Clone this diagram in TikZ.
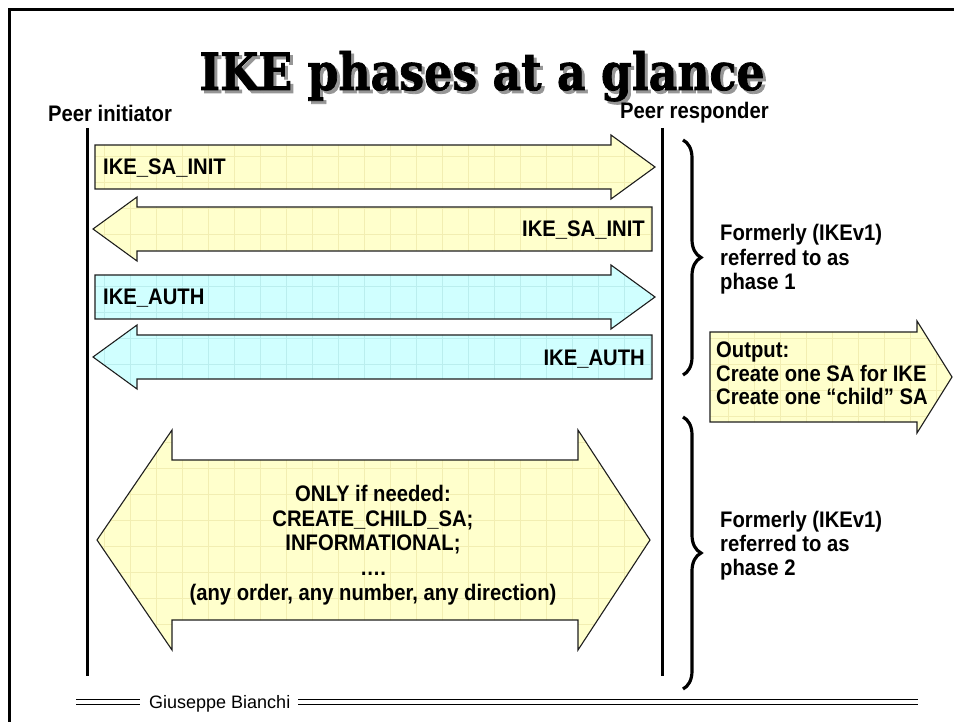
\documentclass[tikz,border=0pt]{standalone}
\usepackage{fontspec}
\setmainfont{Liberation Sans}
\newfontfamily\lblfont{Liberation Sans}[FakeStretch=0.9]
\newfontfamily\headfont{DejaVu Serif Bold}[FakeBold=1.6]
\usetikzlibrary{decorations.pathreplacing}

\definecolor{paleyellow}{RGB}{255,255,204}
\definecolor{palecyan}{RGB}{208,255,255}
\definecolor{yellowgrid}{RGB}{242,238,178}
\definecolor{cyangrid}{RGB}{186,238,238}
\definecolor{outline}{RGB}{30,30,30}
\definecolor{shadowgray}{RGB}{150,150,150}

\tikzset{
  lbl/.style={font=\lblfont\bfseries\fontsize{22.5}{24.7}\selectfont, inner sep=0pt},
  lifeline/.style={line width=3pt},
  frameline/.style={line width=3pt},
  shapeedge/.style={draw=outline, line width=1.1pt, line join=miter},
  phasebrace/.style={decorate, decoration={brace, amplitude=18pt}, line width=3.2pt},
  footrule/.style={line width=0.9pt},
}

% filled shape with a faint grid texture and a thin outline
\newcommand{\texshape}[3]{%
  \begin{scope}
    \clip #3;
    \fill[#1] #3;
    \draw[#2, line width=0.5pt, step=26pt] (0pt,-730pt) grid (960pt,0pt);
  \end{scope}
  \path[shapeedge] #3;}

\begin{document}
\begin{tikzpicture}[x=1pt, y=-1pt]
  \useasboundingbox (0,0) rectangle (954,722);
  \fill[white] (0,0) rectangle (954,722);

  % slide frame
  \coordinate (frameTL) at (9,10);
  \coordinate (frameTR) at (954,10);
  \coordinate (frameBL) at (9,722);
  \draw[frameline] (frameBL) -- (frameTL) -- (frameTR);

  % title with drop shadow
  \node[anchor=base, text=shadowgray, inner sep=0pt] (titleshadow) at (485,93)
    {\resizebox{565pt}{39pt}{\headfont IKE phases at a glance}};
  \node[anchor=base, inner sep=0pt] (title) at (482,90)
    {\resizebox{565pt}{39pt}{\headfont IKE phases at a glance}};

  % peers and lifelines
  \node[lbl, anchor=base west] (init) at (48,122) {Peer initiator};
  \node[lbl, anchor=base west] (resp) at (620,119) {Peer responder};
  \coordinate (initTop) at (87,128);
  \coordinate (initBot) at (87,676);
  \coordinate (respTop) at (662,128);
  \coordinate (respBot) at (662,676);
  \draw[lifeline] (initTop) -- (initBot);
  \draw[lifeline] (respTop) -- (respBot);

  % IKE_SA_INIT exchange
  \texshape{paleyellow}{yellowgrid}{(95,145)--(611,145)--(611,135)--(655,167)--(611,199)--(611,189)--(95,189)--cycle}
  \node[lbl, anchor=base west] (sainitreq) at (103,175) {IKE\_SA\_INIT};
  \texshape{paleyellow}{yellowgrid}{(652,207)--(137,207)--(137,197)--(93,229)--(137,261)--(137,251)--(652,251)--cycle}
  \node[lbl, anchor=base east] (sainitresp) at (645,237) {IKE\_SA\_INIT};

  % IKE_AUTH exchange
  \texshape{palecyan}{cyangrid}{(95,275)--(611,275)--(611,265)--(655,297)--(611,329)--(611,319)--(95,319)--cycle}
  \node[lbl, anchor=base west] (authreq) at (103,305) {IKE\_AUTH};
  \texshape{palecyan}{cyangrid}{(652,335)--(137,335)--(137,325)--(93,357)--(137,389)--(137,379)--(652,379)--cycle}
  \node[lbl, anchor=base east] (authresp) at (645,365) {IKE\_AUTH};

  % optional exchanges, both directions
  \texshape{paleyellow}{yellowgrid}{(97,540)--(172,430)--(172,460)--(578,460)--(578,430)--(650,540)--(578,650)--(578,620)--(172,620)--(172,650)--cycle}
  \node[lbl, anchor=north, align=center] (optional) at (373,485)
    {ONLY if needed:\\CREATE\_CHILD\_SA;\\INFORMATIONAL;\\….\\(any order, any number, any direction)};

  % phase braces and notes
  \coordinate (braceOneTop) at (683,140);
  \coordinate (braceOneBot) at (683,375);
  \draw[phasebrace] (braceOneTop) -- (braceOneBot);
  \node[lbl, anchor=north west, align=left, font=\lblfont\bfseries\fontsize{22.5}{24.5}\selectfont]
    (phaseone) at (720,224) {Formerly (IKEv1)\\referred to as\\phase 1};

  \coordinate (braceTwoTop) at (683,417);
  \coordinate (braceTwoBot) at (683,689);
  \draw[phasebrace] (braceTwoTop) -- (braceTwoBot);
  \node[lbl, anchor=north west, align=left, font=\lblfont\bfseries\fontsize{22.5}{24}\selectfont]
    (phasetwo) at (720,511) {Formerly (IKEv1)\\referred to as\\phase 2};

  % phase 1 output
  \texshape{paleyellow}{yellowgrid}{(710,332)--(917,332)--(917,321)--(952,377)--(917,433)--(917,422)--(710,422)--cycle}
  \node[lbl, anchor=north west, align=left, font=\lblfont\bfseries\fontsize{22.5}{23.5}\selectfont]
    (output) at (716,342) {Output:\\Create one SA for IKE\\Create one “child” SA};

  % footer
  \coordinate (footLa) at (76,699);
  \coordinate (footLb) at (140,699);
  \coordinate (footLc) at (76,704);
  \coordinate (footLd) at (140,704);
  \coordinate (footRa) at (298,699);
  \coordinate (footRb) at (918,699);
  \coordinate (footRc) at (298,704);
  \coordinate (footRd) at (918,704);
  \draw[footrule] (footLa) -- (footLb);
  \draw[footrule] (footLc) -- (footLd);
  \draw[footrule] (footRa) -- (footRb);
  \draw[footrule] (footRc) -- (footRd);
  \node[anchor=base west, inner sep=0pt, font=\fontsize{18}{21}\selectfont] (author) at (149,708) {Giuseppe Bianchi};
\end{tikzpicture}
\end{document}
